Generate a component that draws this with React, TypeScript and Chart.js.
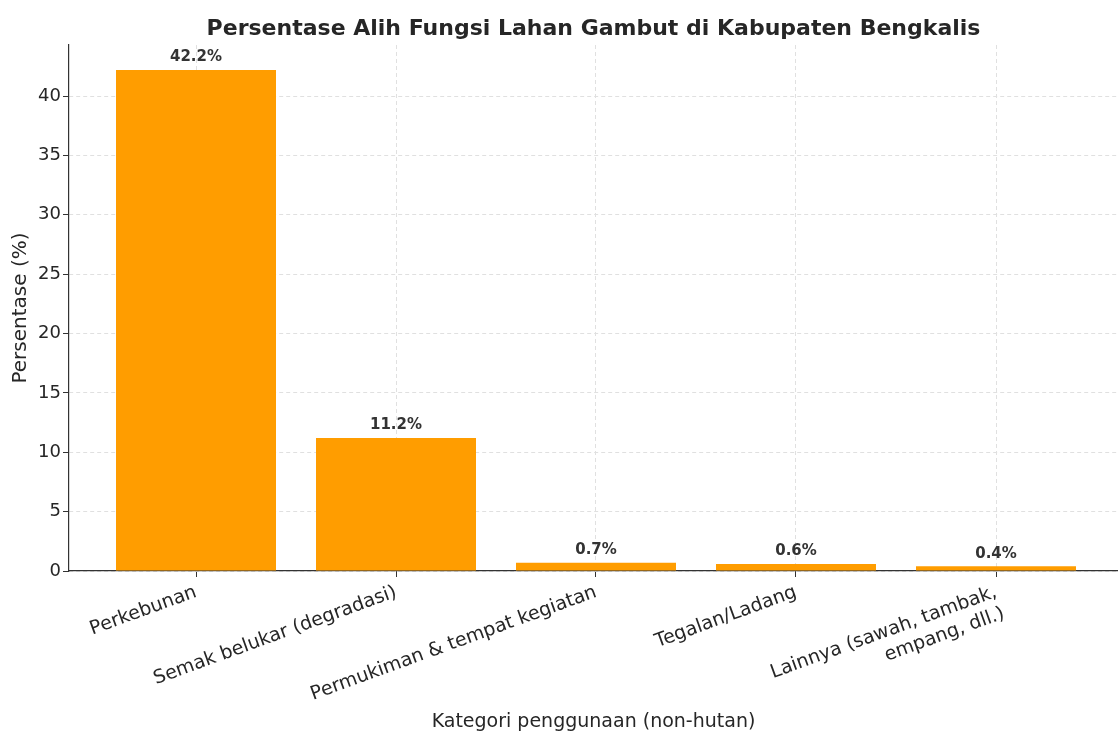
import React, { useEffect, useRef } from "react";
import { Chart, registerables } from "chart.js";

Chart.register(...registerables);

const categories: (string | string[])[] = [
  "Perkebunan",
  "Semak belukar (degradasi)",
  "Permukiman & tempat kegiatan",
  "Tegalan/Ladang",
  ["Lainnya (sawah, tambak,", "empang, dll.)"],
];
const percentages: number[] = [42.2, 11.2, 0.7, 0.6, 0.4];
const yTicks: number[] = [0, 5, 10, 15, 20, 25, 30, 35, 40];

const TITLE = "Persentase Alih Fungsi Lahan Gambut di Kabupaten Bengkalis";
const X_TITLE = "Kategori penggunaan (non-hutan)";
const Y_TITLE = "Persentase (%)";
const FONT = "'DejaVu Sans', sans-serif";

const valueLabels = {
  id: "valueLabels",
  afterDatasetsDraw(chart: any) {
    const ctx = chart.ctx;
    const meta = chart.getDatasetMeta(0);
    ctx.save();
    ctx.font = `bold 15px ${FONT}`;
    ctx.fillStyle = "#333333";
    ctx.textAlign = "center";
    ctx.textBaseline = "bottom";
    meta.data.forEach((bar: any, i: number) => {
      ctx.fillText(`${percentages[i].toFixed(1)}%`, bar.x, bar.y - 5);
    });
    ctx.restore();
  },
};

export default function App() {
  const ref = useRef<HTMLCanvasElement>(null);
  useEffect(() => {
    document.body.style.margin = "0";
    const chart = new Chart(ref.current!, {
      type: "bar",
      data: {
        datasets: [
          {
            data: percentages.map((v, i) => ({ x: i, y: v })),
            backgroundColor: "#ff9d00",
            borderWidth: 0,
            barPercentage: 0.8,
            categoryPercentage: 1.0,
          },
        ],
      },
      options: {
        animation: false,
        responsive: false,
        layout: { padding: { left: 0, right: 0, top: 0, bottom: 0 } },
        plugins: {
          legend: { display: false },
          tooltip: { enabled: false },
          title: {
            display: true,
            fullSize: false,
            text: TITLE,
            color: "#262626",
            font: { family: FONT, size: 22, weight: "bold", lineHeight: 1.2 },
            padding: { top: 16, bottom: 2.6 },
          },
        },
        scales: {
          x: {
            type: "linear",
            min: -0.635,
            max: 4.61,
            offset: false,
            afterBuildTicks: (s: any) => {
              s.ticks = categories.map((_, i) => ({ value: i }));
            },
            afterFit: (s: any) => {
              s.height = 169;
            },
            ticks: {
              autoSkip: false,
              minRotation: 20,
              maxRotation: 20,
              padding: 4,
              color: "#262626",
              font: { family: FONT, size: 19 },
              callback: (v: any) => categories[Math.round(v)] as any,
            },
            grid: {
              offset: false,
              color: "#e0e0e0",
              tickColor: "#333333",
              tickLength: 6,
              tickBorderDash: [],
            },
            border: { color: "#333333", width: 1.2, dash: [4, 3] },
            title: {
              display: true,
              text: X_TITLE,
              color: "#262626",
              font: { family: FONT, size: 19 },
              padding: { top: 4, bottom: 7 },
            },
          },
          y: {
            min: 0,
            max: 44.3,
            afterBuildTicks: (s: any) => {
              s.ticks = yTicks.map((v) => ({ value: v }));
            },
            afterFit: (s: any) => {
              s.width = 69;
            },
            ticks: {
              padding: 2,
              color: "#262626",
              font: { family: FONT, size: 18 },
            },
            grid: {
              color: "#e0e0e0",
              tickColor: "#333333",
              tickLength: 6,
              tickBorderDash: [],
            },
            border: { color: "#333333", width: 1.2, dash: [4, 3] },
            title: {
              display: true,
              text: Y_TITLE,
              color: "#262626",
              font: { family: FONT, size: 20 },
              padding: { top: 9, bottom: 6 },
            },
          },
        },
      } as any,
      plugins: [valueLabels],
    });
    return () => chart.destroy();
  }, []);
  return <canvas ref={ref} width={1118} height={740} style={{ display: "block" }} />;
}
